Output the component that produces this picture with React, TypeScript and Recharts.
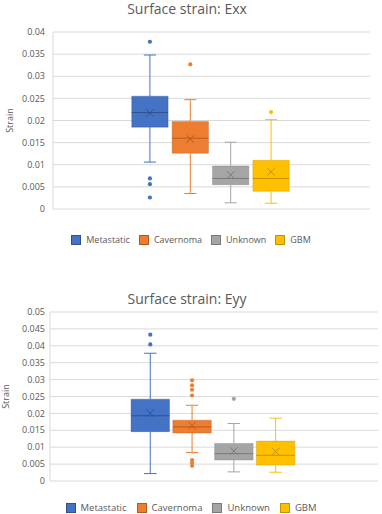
import React from 'react';
import {
  ComposedChart,
  XAxis,
  YAxis,
  CartesianGrid,
  ReferenceArea,
  ReferenceLine,
  Scatter,
  Label,
} from 'recharts';

// ---- categories & styles ----
const groups = ['Metastatic', 'Cavernoma', 'Unknown', 'GBM'];
const colors = ['#4472C4', '#ED7D31', '#A5A5A5', '#FFC000'];
const darkColors = ['#2F528F', '#B65A1E', '#7A7A7A', '#C49300'];

// ---- Exx data ----
const exxMin = [0.0106, 0.0035, 0.0014, 0.0013];
const exxQ1 = [0.0185, 0.0126, 0.0055, 0.004];
const exxMedian = [0.0218, 0.016, 0.0069, 0.0069];
const exxQ3 = [0.0255, 0.0198, 0.0097, 0.011];
const exxMax = [0.0348, 0.0247, 0.0151, 0.0202];
const exxMean = [0.0217, 0.0158, 0.0077, 0.0084];
const exxOutliers = [[0.0378, 0.0069, 0.0056, 0.0026], [0.0327], [], [0.0219]];
const exxTicks = [0, 0.005, 0.01, 0.015, 0.02, 0.025, 0.03, 0.035, 0.04];

// ---- Eyy data ----
const eyyMin = [0.0022, 0.0084, 0.0027, 0.0026];
const eyyQ1 = [0.0146, 0.0142, 0.0062, 0.0047];
const eyyMedian = [0.0193, 0.016, 0.0081, 0.0076];
const eyyQ3 = [0.0242, 0.018, 0.0111, 0.0118];
const eyyMax = [0.0378, 0.0224, 0.017, 0.0186];
const eyyMean = [0.0201, 0.0164, 0.0089, 0.0087];
const eyyOutliers = [
  [0.0433, 0.0404],
  [0.0298, 0.0283, 0.027, 0.0253, 0.0062, 0.0054, 0.0045],
  [0.0243],
  [],
];
const eyyTicks = [0, 0.005, 0.01, 0.015, 0.02, 0.025, 0.03, 0.035, 0.04, 0.045, 0.05];

const TEXT = '#595959';
const GRID = '#D9D9D9';
const FONT = '"Open Sans", "Noto Sans", sans-serif';

const fmt = (v: number) => (v === 0 ? '0' : String(parseFloat(v.toFixed(3))));

type Props = {
  title: string;
  min: number[];
  q1: number[];
  med: number[];
  q3: number[];
  max: number[];
  mean: number[];
  outliers: number[][];
  ticks: number[];
  top: number;
  height: number;
  margin: { top: number; right: number; bottom: number; left: number };
  yAxisWidth: number;
  tickMargin: number;
  labelX: number;
  halfWidth: number;
  titleTop: number;
  legendTop: number;
  legendFont: number;
  legendGap: number;
};

const XDOMAIN: [number, number] = [-2.4, 5.45];
const CAP = 0.15;

function BoxChart(p: Props) {
  const yMax = p.ticks[p.ticks.length - 1];
  return (
    <div style={{ position: 'absolute', left: 0, top: p.top, width: 382, height: p.height }}>
      <div
        style={{
          position: 'absolute',
          left: 0,
          width: 374,
          top: p.titleTop,
          height: 18,
          textAlign: 'center',
          fontSize: 14,
          lineHeight: '18px',
          color: TEXT,
          whiteSpace: 'nowrap',
        }}
      >
        {p.title}
      </div>
      <ComposedChart width={382} height={p.height} margin={p.margin}>
        <CartesianGrid horizontal vertical={false} stroke={GRID} strokeDasharray="" />
        <XAxis type="number" dataKey="x" domain={XDOMAIN} hide allowDataOverflow />
        <YAxis
          type="number"
          dataKey="y"
          domain={[0, yMax]}
          ticks={p.ticks}
          tickFormatter={fmt}
          width={p.yAxisWidth}
          axisLine={{ stroke: GRID }}
          tickLine={false}
          tickSize={0}
          tickMargin={p.tickMargin}
          tick={{ fontSize: 9, fill: TEXT }}
          interval={0}
        >
          <Label
            content={(lp: any) => {
              const vb = lp.viewBox || {};
              const cx = p.labelX;
              const cy = (vb.y ?? 0) + (vb.height ?? 0) / 2;
              return (
                <text
                  x={cx}
                  y={cy}
                  transform={`rotate(-90 ${cx} ${cy})`}
                  textAnchor="middle"
                  dominantBaseline="central"
                  fontSize={9}
                  fill={TEXT}
                >
                  Strain
                </text>
              );
            }}
          />
        </YAxis>
        {groups.map((g, i) => (
          <ReferenceLine
            key={`wl-${g}`}
            segment={[
              { x: i, y: p.min[i] },
              { x: i, y: p.q1[i] },
            ]}
            stroke={colors[i]}
            strokeWidth={1}
          />
        ))}
        {groups.map((g, i) => (
          <ReferenceLine
            key={`wu-${g}`}
            segment={[
              { x: i, y: p.q3[i] },
              { x: i, y: p.max[i] },
            ]}
            stroke={colors[i]}
            strokeWidth={1}
          />
        ))}
        {groups.map((g, i) => (
          <ReferenceLine
            key={`cl-${g}`}
            segment={[
              { x: i - CAP, y: p.min[i] },
              { x: i + CAP, y: p.min[i] },
            ]}
            stroke={colors[i]}
            strokeWidth={1}
          />
        ))}
        {groups.map((g, i) => (
          <ReferenceLine
            key={`cu-${g}`}
            segment={[
              { x: i - CAP, y: p.max[i] },
              { x: i + CAP, y: p.max[i] },
            ]}
            stroke={colors[i]}
            strokeWidth={1}
          />
        ))}
        {groups.map((g, i) => (
          <ReferenceArea
            key={`box-${g}`}
            x1={i - p.halfWidth}
            x2={i + p.halfWidth}
            y1={p.q1[i]}
            y2={p.q3[i]}
            fill={colors[i]}
            fillOpacity={1}
            stroke={darkColors[i]}
            strokeOpacity={0.35}
            strokeWidth={1}
          />
        ))}
        {groups.map((g, i) => (
          <ReferenceLine
            key={`med-${g}`}
            segment={[
              { x: i - p.halfWidth, y: p.med[i] },
              { x: i + p.halfWidth, y: p.med[i] },
            ]}
            stroke={darkColors[i]}
            strokeWidth={1}
          />
        ))}
        {groups.map((g, i) => (
          <Scatter
            key={`sc-${g}`}
            name={g}
            isAnimationActive={false}
            data={[
              { x: i, y: p.mean[i], kind: 'mean' },
              ...p.outliers[i].map((o) => ({ x: i, y: o, kind: 'out' })),
            ]}
            shape={(sp: any) => {
              const { cx, cy, payload } = sp;
              if (payload.kind === 'mean') {
                const d = 3.8;
                return (
                  <g>
                    <line x1={cx - d} y1={cy - d} x2={cx + d} y2={cy + d} stroke={darkColors[i]} strokeWidth={1} />
                    <line x1={cx - d} y1={cy + d} x2={cx + d} y2={cy - d} stroke={darkColors[i]} strokeWidth={1} />
                  </g>
                );
              }
              return <circle cx={cx} cy={cy} r={2.1} fill={colors[i]} />;
            }}
          />
        ))}
      </ComposedChart>
      <div
        style={{
          position: 'absolute',
          left: 0,
          width: 382,
          top: p.legendTop,
          display: 'flex',
          justifyContent: 'center',
          alignItems: 'center',
          fontSize: p.legendFont,
          lineHeight: '12px',
          color: TEXT,
          gap: p.legendGap,
        }}
      >
        {groups.map((g, i) => (
          <div key={g} style={{ display: 'flex', alignItems: 'center', gap: 5 }}>
            <span style={{ display: 'inline-block', width: 8, height: 8, background: colors[i], border: `0.5px solid ${darkColors[i]}` }} />
            <span>{g}</span>
          </div>
        ))}
      </div>
    </div>
  );
}

export default function App() {
  return (
    <div
      style={{
        position: 'absolute',
        left: 0,
        top: 0,
        width: 382,
        height: 514,
        background: '#fff',
        fontFamily: FONT,
        overflow: 'hidden',
      }}
    >
      <BoxChart
        title="Surface strain: Exx"
        min={exxMin}
        q1={exxQ1}
        med={exxMedian}
        q3={exxQ3}
        max={exxMax}
        mean={exxMean}
        outliers={exxOutliers}
        ticks={exxTicks}
        top={0}
        height={256}
        margin={{ top: 32, right: 12, bottom: 47, left: 0 }}
        yAxisWidth={53}
        tickMargin={8}
        labelX={9}
        halfWidth={0.45}
        titleTop={0}
        legendTop={234}
        legendFont={9}
        legendGap={9}
      />
      <BoxChart
        title="Surface strain: Eyy"
        min={eyyMin}
        q1={eyyQ1}
        med={eyyMedian}
        q3={eyyQ3}
        max={eyyMax}
        mean={eyyMean}
        outliers={eyyOutliers}
        ticks={eyyTicks}
        top={256}
        height={258}
        margin={{ top: 56, right: 4, bottom: 33, left: 0 }}
        yAxisWidth={50}
        tickMargin={5}
        labelX={5}
        halfWidth={0.46}
        titleTop={34}
        legendTop={246}
        legendFont={9.5}
        legendGap={10}
      />
    </div>
  );
}
